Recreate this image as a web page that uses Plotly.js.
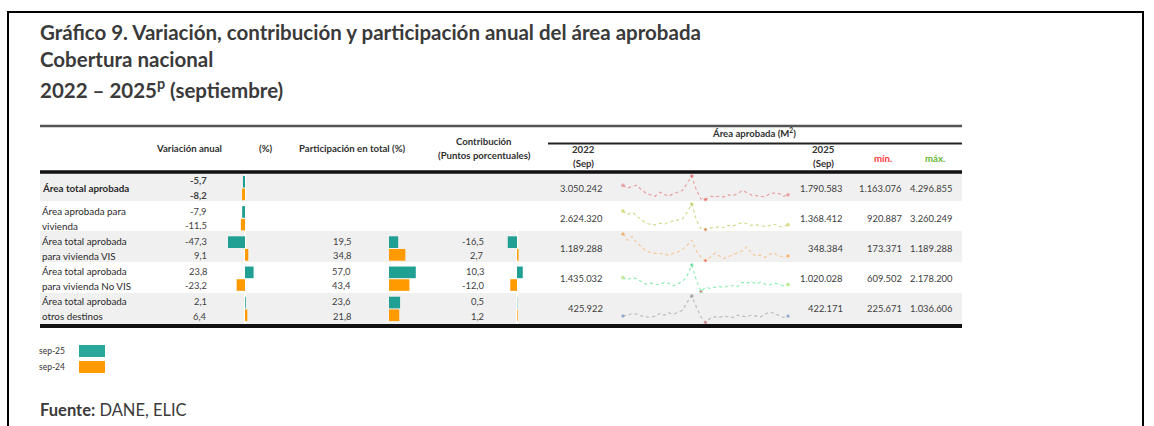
<!DOCTYPE html>
<html><head><meta charset="utf-8">
<script src="https://cdn.plot.ly/plotly-3.0.1.min.js"></script>
<style>html,body{margin:0;padding:0;background:#fff}#chart{width:1154px;height:426px}</style>
</head><body><div id="chart"></div>
<script>
// ---------------- DATA ----------------
const rowLabels = [["<b>Área total aprobada</b>"],["Área aprobada para","vivienda"],["Área total aprobada","para vivienda VIS"],["Área total aprobada","para vivienda No VIS"],["Área total aprobada","otros destinos"]];
const varSep25 = [-5.7, -7.9, -47.3, 23.8, 2.1];
const varSep24 = [-8.2, -11.5, 9.1, -23.2, 6.4];
const partSep25 = [null, null, 19.5, 57.0, 23.6];
const partSep24 = [null, null, 34.8, 43.4, 21.8];
const contSep25 = [null, null, -16.5, 10.3, 0.5];
const contSep24 = [null, null, 2.7, -12.0, 1.2];
const area2022 = [3050242, 2624320, 1189288, 1435032, 425922];
const area2025 = [1790583, 1368412, 348384, 1020028, 422171];
const areaMin  = [1163076, 920887, 173371, 609502, 225671];
const areaMax  = [4296855, 3260249, 1189288, 2178200, 1036606];
const months = ["sep-22","oct-22","nov-22","dic-22","ene-23","feb-23","mar-23","abr-23","may-23","jun-23","jul-23","ago-23","sep-23","oct-23","nov-23","dic-23","ene-24","feb-24","mar-24","abr-24","may-24","jun-24","jul-24","ago-24","sep-24","oct-24","nov-24","dic-24","ene-25","feb-25","mar-25","abr-25","may-25","jun-25","jul-25","ago-25","sep-25"];
const sparkTotal = [3050242,2690000,2900000,3080000,2470000,2030000,1770000,1600000,2120000,1820000,1600000,1950000,2120000,2380000,3340000,4296855,2470000,1250000,1163076,1600000,1510000,1600000,1510000,1770000,1690000,1950000,2380000,2030000,1770000,1690000,1600000,1510000,1950000,2030000,1950000,1600000,1790583];
const sparkVivienda = [2624320,2300000,2500000,2200000,1800000,1500000,1400000,1350000,1500000,1400000,1600000,1700000,1750000,1900000,2500000,3260249,1800000,1000000,920887,1100000,1050000,1200000,1100000,1300000,1250000,1400000,1550000,1450000,1300000,1350000,1250000,1200000,1300000,1400000,1200000,1150000,1368412];
const sparkVIS = [1189288,950000,1100000,850000,700000,550000,480000,450000,450000,420000,380000,450000,500000,600000,750000,950000,550000,300000,173371,300000,450000,350000,250000,320000,400000,480000,550000,700000,450000,350000,380000,300000,420000,450000,350000,300000,348384];
const sparkNoVIS = [1435032,1300000,1450000,1350000,1200000,1050000,1100000,1050000,1000000,1150000,1100000,950000,1100000,1200000,1550000,2178200,1300000,609502,850000,800000,850000,900000,850000,950000,950000,900000,1150000,1100000,1200000,1050000,1150000,1050000,1000000,1100000,1050000,950000,1020028];
const sparkOtros = [425922,450000,500000,480000,430000,400000,380000,420000,500000,450000,520000,480000,550000,600000,850000,1036606,700000,400000,225671,350000,400000,380000,420000,400000,380000,450000,420000,400000,450000,420000,400000,480000,550000,500000,450000,380000,422171];
const sparkSeries = [sparkTotal, sparkVivienda, sparkVIS, sparkNoVIS, sparkOtros];
const legendLabels = ["sep-25", "sep-24"];

// ---------------- STYLE ----------------
const W = 1154, H = 426;
const TEAL = "#1fa093", ORANGE = "#ff9b00";
const FONT = "Lato, 'Liberation Sans', sans-serif";
const TXT = "#404040";
const px = x => x / W, py = y => 1 - y / H;
const rowTop = [173, 201, 231, 262, 293];
const rowBot = [201, 231, 262, 293, 324];
const sparkLine = ["#eba0a0", "#d3dd8f", "#f6c99a", "#8ef0b5", "#bdbdbd"];
const sparkEnd  = ["#e88080", "#d8d040", "#f39a3a", "#f2d21e", "#4a90e2"];
const sparkMax  = ["#c04040", "#9cc040", "#e89040", "#30c070", "#707070"];

const fmtDec = v => v.toFixed(1).replace(".", ",");
const fmtInt = v => Math.round(v).toString().replace(/\B(?=(\d{3})+(?!\d))/g, ".");

const rowsIdx = [0,1,2,3,4];
const traces = [];
traces.push({type:"bar", orientation:"h", y:rowsIdx, x:varSep25, marker:{color:TEAL}, xaxis:"x", yaxis:"y", name:legendLabels[0], hoverinfo:"x"});
traces.push({type:"bar", orientation:"h", y:rowsIdx, x:varSep24, marker:{color:ORANGE}, xaxis:"x", yaxis:"y", name:legendLabels[1], hoverinfo:"x"});
traces.push({type:"bar", orientation:"h", y:rowsIdx, x:partSep25, marker:{color:TEAL}, xaxis:"x2", yaxis:"y", name:legendLabels[0], hoverinfo:"x"});
traces.push({type:"bar", orientation:"h", y:rowsIdx, x:partSep24, marker:{color:ORANGE}, xaxis:"x2", yaxis:"y", name:legendLabels[1], hoverinfo:"x"});
traces.push({type:"bar", orientation:"h", y:rowsIdx, x:contSep25, marker:{color:TEAL}, xaxis:"x3", yaxis:"y", name:legendLabels[0], hoverinfo:"x"});
traces.push({type:"bar", orientation:"h", y:rowsIdx, x:contSep24, marker:{color:ORANGE}, xaxis:"x3", yaxis:"y", name:legendLabels[1], hoverinfo:"x"});

const layoutAxes = {};
sparkSeries.forEach((s, i) => {
  const n = s.length;
  let iMin = 0, iMax = 0;
  s.forEach((v, k) => { if (v < s[iMin]) iMin = k; if (v > s[iMax]) iMax = k; });
  const sizes = s.map((v, k) => (k === 0 || k === n - 1 || k === iMin || k === iMax) ? 3 : 0.1);
  const cols = s.map((v, k) => k === iMin ? "#e83030" : k === iMax ? sparkMax[i] : (k === 0 || k === n - 1) ? sparkEnd[i] : sparkLine[i]);
  const ya = "y" + (i + 2);
  traces.push({type:"scatter", mode:"lines+markers", x:months, y:s, xaxis:"x4", yaxis:ya,
    line:{color:sparkLine[i], width:1.2, dash:"dot"}, marker:{size:sizes, color:cols},
    cliponaxis:false, hoverinfo:"x+y"});
  layoutAxes["yaxis" + (i + 2)] = {domain:[py(rowBot[i] - 1.5), py(rowTop[i] + 3)], range:[areaMin[i], areaMax[i]],
    anchor:"x4", visible:false, fixedrange:true};
});

const hiddenX = (d0, d1, r, zl) => ({domain:[px(d0), px(d1)], range:r, anchor:"y", showticklabels:false, showgrid:false,
  showline:false, ticks:"", zeroline:zl, zerolinecolor:"#ffffff", zerolinewidth:2, fixedrange:true});

// ---------------- SHAPES ----------------
const shapes = [];
shapes.push({type:"rect", xref:"paper", yref:"paper", x0:px(8), x1:px(1143), y0:py(440), y1:py(12), line:{color:"#000", width:2}, fillcolor:"rgba(0,0,0,0)", layer:"below"});
[0, 2, 4].forEach(i => shapes.push({type:"rect", xref:"paper", yref:"paper", x0:px(40), x1:px(962), y0:py(rowBot[i]), y1:py(rowTop[i]), fillcolor:"#f0f0f0", line:{width:0}, layer:"below"}));
// white zero line of the contribution column (rows with data only)
shapes.push({type:"line", xref:"x3", yref:"paper", x0:0, x1:0, y0:py(324), y1:py(231), line:{color:"#fff", width:2}, layer:"below"});
shapes.push({type:"line", xref:"paper", yref:"paper", x0:px(40), x1:px(962), y0:py(126), y1:py(126), line:{color:"#555", width:2.5}});
shapes.push({type:"line", xref:"paper", yref:"paper", x0:px(548), x1:px(962), y0:py(143.5), y1:py(143.5), line:{color:"#222", width:2}});
shapes.push({type:"line", xref:"paper", yref:"paper", x0:px(40), x1:px(962), y0:py(172), y1:py(172), line:{color:"#111", width:3.5}});
shapes.push({type:"line", xref:"paper", yref:"paper", x0:px(40), x1:px(962), y0:py(326), y1:py(326), line:{color:"#111", width:4}});
shapes.push({type:"rect", xref:"paper", yref:"paper", x0:px(79), x1:px(105), y0:py(357), y1:py(345), fillcolor:"#27a89a", line:{width:0}});
shapes.push({type:"rect", xref:"paper", yref:"paper", x0:px(79), x1:px(105), y0:py(373), y1:py(361), fillcolor:ORANGE, line:{width:0}});

// ---------------- ANNOTATIONS ----------------
const ann = [];
const A = (x, y, text, o) => ann.push(Object.assign({xref:"paper", yref:"paper", x:px(x), y:py(y), text:text, showarrow:false,
  font:{family:FONT, size:9, color:TXT}, xanchor:"center", yanchor:"middle"}, o || {}));
const TF = {family:FONT, size:20.5, color:"#3a3a3a"};
A(38, 32, "<b>Gráfico 9. Variación, contribución y participación anual del área aprobada</b>", {xanchor:"left", font:TF});
A(38, 59, "<b>Cobertura nacional</b>", {xanchor:"left", font:TF});
A(38, 88, "<b>2022 – 2025<sup>p</sup> (septiembre)</b>", {xanchor:"left", font:TF});
const HF = {family:FONT, size:9.6, color:"#303030"};
A(189, 148, "<b>Variación anual</b>", {font:HF});
A(265, 148, "<b>(%)</b>", {font:HF});
A(352, 148, "<b>Participación en total (%)</b>", {font:HF});
A(484, 142, "<b>Contribución</b>", {font:HF});
A(484, 156, "<b>(Puntos porcentuales)</b>", {font:HF});
A(754, 133, "<b>Área aprobada (M<sup>2</sup>)</b>", {font:HF});
A(583, 149, "<b>2022</b>", {font:HF});
A(583, 163, "<b>(Sep)</b>", {font:HF});
A(823, 149, "<b>2025</b>", {font:HF});
A(823, 163, "<b>(Sep)</b>", {font:HF});
A(883, 158, "<b>mín.</b>", {font:{family:FONT, size:9.6, color:"#ff3b3b"}});
A(935, 158, "<b>máx.</b>", {font:{family:FONT, size:9.6, color:"#66b82e"}});
const LF = {family:FONT, size:9.8, color:"#2a2a2a"};
const NF = {family:FONT, size:9.4, color:TXT};
rowsIdx.forEach(i => {
  const b = i === 0;
  const wrap = t => b ? "<b>" + t + "</b>" : t;
  const labs = rowLabels[i];
  if (labs.length === 1) ann.push({xref:"paper", yref:"y", x:px(40), y:i, text:labs[0], showarrow:false, xanchor:"left", yanchor:"middle", font:LF});
  else labs.forEach((t, k) => ann.push({xref:"paper", yref:"y", x:px(40), y:i + (k === 0 ? -0.25 : 0.25), text:t, showarrow:false, xanchor:"left", yanchor:"middle", font:LF}));
  const pair = (xr, a, c) => {
    if (a[i] === null) return;
    ann.push({xref:"paper", yref:"y", x:px(xr), y:i - 0.24, text:wrap(fmtDec(a[i])), showarrow:false, xanchor:"right", yanchor:"middle", font:NF});
    ann.push({xref:"paper", yref:"y", x:px(xr), y:i + 0.24, text:wrap(fmtDec(c[i])), showarrow:false, xanchor:"right", yanchor:"middle", font:NF});
  };
  pair(209, varSep25, varSep24);
  pair(353, partSep25, partSep24);
  pair(486, contSep25, contSep24);
  [[605, area2022], [845, area2025], [904, areaMin], [955, areaMax]].forEach(([xr, arr]) =>
    ann.push({xref:"paper", yref:"y", x:px(xr), y:i, text:fmtInt(arr[i]), showarrow:false, xanchor:"right", yanchor:"middle", font:NF}));
});
A(67, 351, legendLabels[0], {xanchor:"right", font:{family:FONT, size:8.5, color:"#333"}});
A(67, 367, legendLabels[1], {xanchor:"right", font:{family:FONT, size:8.5, color:"#333"}});
A(38, 410, "<b>Fuente:</b> DANE, ELIC", {xanchor:"left", font:{family:FONT, size:16.5, color:"#3a3a3a"}});

const layout = Object.assign({
  width:W, height:H, margin:{l:0, r:0, t:0, b:0}, paper_bgcolor:"#fff", plot_bgcolor:"rgba(0,0,0,0)",
  showlegend:false, barmode:"group", bargap:0.16, bargroupgap:0.08,
  xaxis: hiddenX(195, 265, [-(245 - 195) / 0.36, (265 - 245) / 0.36], true),
  xaxis2: hiddenX(389, 430, [0, (430 - 389) / 0.47], false),
  xaxis3: hiddenX(495, 530, [-(517 - 495) / 0.56, (530 - 517) / 0.56], false),
  xaxis4: {domain:[px(622), px(789)], range:[-0.2, 36.2], type:"category", anchor:"y2", visible:false, fixedrange:true},
  yaxis: {domain:[py(324), py(173)], range:[4.5, -0.5], showticklabels:false, showgrid:false, zeroline:false, ticks:"", fixedrange:true},
  shapes:shapes, annotations:ann
}, layoutAxes);

Plotly.newPlot("chart", traces, layout, {displayModeBar:false, staticPlot:true});
</script></body></html>
